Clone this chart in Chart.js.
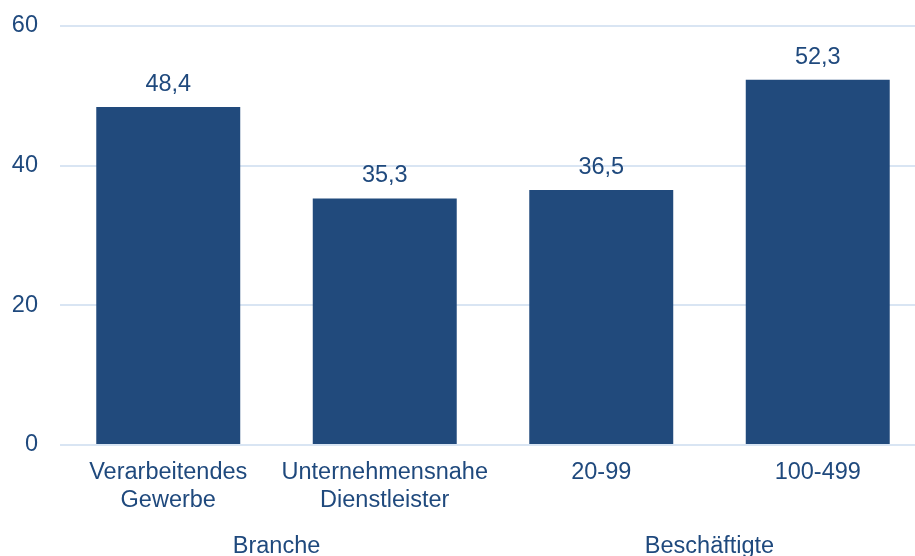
<!DOCTYPE html>
<html lang="de">
<head>
<meta charset="utf-8">
<title>Balkendiagramm</title>
<script src="https://cdn.jsdelivr.net/npm/chart.js@4"></script>
<style>
    html, body { margin: 0; padding: 0; overflow: hidden; background: #fff; }
    .wrap { width: 926px; height: 556px; }
</style>
</head>
<body>
<div class="wrap"><canvas id="chart"></canvas></div>
<script>
// Daten
const categories = [["Verarbeitendes", "Gewerbe"], ["Unternehmensnahe", "Dienstleister"], "20-99", "100-499"];
const values = [48.4, 35.3, 36.5, 52.3];
const groups = [
    { label: "Branche", from: 0, to: 1 },
    { label: "Beschäftigte", from: 2, to: 3 }
];
const yTicks = [0, 20, 40, 60];

const textColor = "#1F497D";
const barColor = "#214A7C";
const gridColor = "#D9E5F3";
const fontFamily = "'Liberation Sans', Arial, sans-serif";
const fontSize = 23.5;

// Werte über den Balken
const valueLabels = {
    id: "valueLabels",
    afterDatasetsDraw(chart) {
        let ctx = chart.ctx;
        let meta = chart.getDatasetMeta(0);
        ctx.save();
        ctx.font = fontSize + "px " + fontFamily;
        ctx.fillStyle = textColor;
        ctx.textAlign = "center";
        ctx.textBaseline = "alphabetic";
        meta.data.forEach((bar, i) => {
            ctx.fillText(values[i].toFixed(1).replace(".", ","), bar.x, bar.y - 16);
        });
        ctx.restore();
    }
};

// Gruppenbeschriftung unter der x-Achse
const groupLabels = {
    id: "groupLabels",
    afterDraw(chart) {
        let ctx = chart.ctx;
        let x = chart.scales.x;
        ctx.save();
        ctx.font = fontSize + "px " + fontFamily;
        ctx.fillStyle = textColor;
        ctx.textAlign = "center";
        ctx.textBaseline = "middle";
        groups.forEach(g => {
            let mid = (x.getPixelForValue(g.from) + x.getPixelForValue(g.to)) / 2;
            ctx.fillText(g.label, mid, 547);
        });
        ctx.restore();
    }
};

new Chart(document.getElementById("chart"), {
    type: "bar",
    data: {
        labels: categories,
        datasets: [{
            data: values,
            backgroundColor: barColor,
            categoryPercentage: 1,
            barPercentage: 0.665
        }]
    },
    options: {
        responsive: true,
        maintainAspectRatio: false,
        animation: false,
        layout: { padding: { top: 26, left: 0, right: 0, bottom: 0 } },
        plugins: { legend: { display: false }, tooltip: { enabled: false } },
        scales: {
            x: {
                grid: { display: false, drawTicks: false },
                border: { display: false },
                ticks: {
                    color: textColor,
                    font: { family: fontFamily, size: fontSize, lineHeight: 1.2 },
                    padding: 13,
                    maxRotation: 0,
                    autoSkip: false
                },
                afterFit(scale) { scale.height = 111; }
            },
            y: {
                min: 0,
                max: 60,
                afterBuildTicks(scale) { scale.ticks = yTicks.map(v => ({ value: v })); },
                grid: { color: gridColor, lineWidth: 2, drawTicks: false },
                border: { display: false },
                ticks: {
                    color: textColor,
                    font: { family: fontFamily, size: fontSize },
                    padding: 22
                },
                afterFit(scale) {
                    scale.width = 60;
                    scale.paddingTop = 0;
                    scale.paddingBottom = 0;
                }
            }
        }
    },
    plugins: [valueLabels, groupLabels]
});
</script>
</body>
</html>
